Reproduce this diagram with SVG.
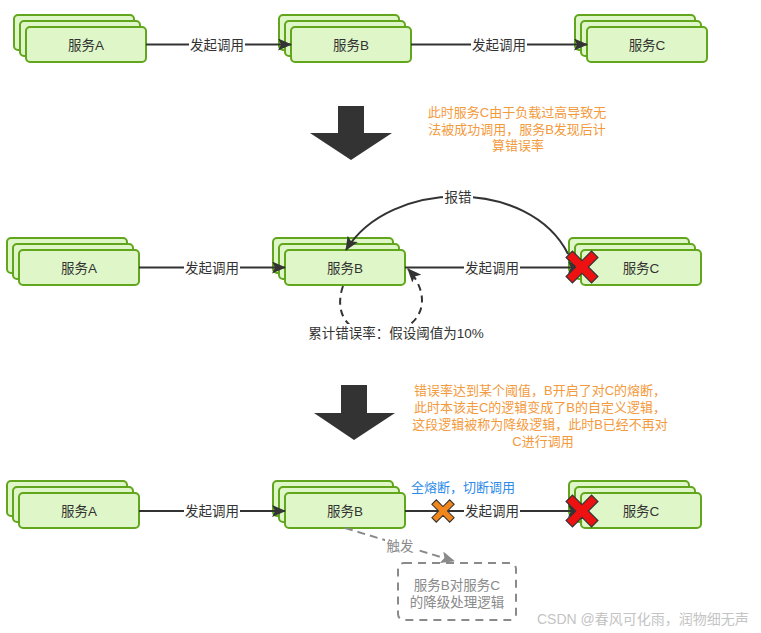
<svg xmlns="http://www.w3.org/2000/svg" xmlns:xlink="http://www.w3.org/1999/xlink" width="761" height="633" viewBox="0 0 761 633">
<style>
text{font-family:"Liberation Sans","Noto Sans CJK SC",sans-serif;}
.nb{fill:#dff7c8;stroke:#61a61c;stroke-width:2;}
.nt{font-size:13.5px;fill:#333;text-anchor:middle;}
.ln{stroke:#333;stroke-width:2;fill:none;}
.lb{font-size:13.5px;fill:#333;text-anchor:middle;}
.bg{fill:#fff;}
.or{font-size:13px;fill:#f39a3c;text-anchor:middle;}
.bl{font-size:13px;fill:#2d8ce8;text-anchor:middle;}
.gr{font-size:13.5px;fill:#8a8a8a;text-anchor:middle;}
.big{fill:#333;}
</style>
<defs>
<marker id="ah" markerUnits="userSpaceOnUse" markerWidth="14" markerHeight="12" refX="13" refY="6" orient="auto">
<path d="M0,0 L14,6 L0,12 L3,6 z" fill="#333"/>
</marker>
<marker id="ahg" markerUnits="userSpaceOnUse" markerWidth="14" markerHeight="12" refX="13" refY="6" orient="auto">
<path d="M0,0 L14,6 L0,12 L3,6 z" fill="#8a8a8a"/>
</marker>
<g id="stk">
<rect class="nb" x="-12" y="-12" width="120" height="35" rx="4"/>
<rect class="nb" x="-6" y="-6" width="120" height="35" rx="4"/>
<rect class="nb" x="0" y="0" width="120" height="35" rx="4"/>
</g>
<polygon id="xs" points="4.5,-18 4.5,-4.5 18,-4.5 18,4.5 4.5,4.5 4.5,18 -4.5,18 -4.5,4.5 -18,4.5 -18,-4.5 -4.5,-4.5 -4.5,-18" transform="rotate(45)"/>
</defs>

<!-- big arrows -->
<g id="bigarrow1"><path class="big" d="M338,106 H364 V133 H392 L351,160 L310,133 H338 z"/></g>
<g id="bigarrow2"><path class="big" d="M341,385 H367 V413 H395 L354,440 L314,413 H341 z"/></g>

<g id="note1">
<text class="or" x="517" y="117">此时服务C由于负载过高导致无</text>
<text class="or" x="517" y="134">法被成功调用，服务B发现后计</text>
<text class="or" x="518" y="150">算错误率</text>
</g>
<g id="note2">
<text class="or" x="540" y="395">错误率达到某个阈值，B开启了对C的熔断，</text>
<text class="or" x="540" y="412">此时本该走C的逻辑变成了B的自定义逻辑，</text>
<text class="or" x="540" y="429">这段逻辑被称为降级逻辑，此时B已经不再对</text>
<text class="or" x="543" y="446">C进行调用</text>
</g>

<!-- nodes -->
<g id="r1A"><use xlink:href="#stk" href="#stk" x="26" y="27"/><text class="nt" x="86" y="49.5">服务A</text></g>
<g id="r1B"><use xlink:href="#stk" href="#stk" x="291" y="27"/><text class="nt" x="351" y="49.5">服务B</text></g>
<g id="r1C"><use xlink:href="#stk" href="#stk" x="587" y="27"/><text class="nt" x="647" y="49.5">服务C</text></g>
<g id="r2A"><use xlink:href="#stk" href="#stk" x="19" y="250"/><text class="nt" x="79" y="272.5">服务A</text></g>
<g id="r2B"><use xlink:href="#stk" href="#stk" x="285" y="250"/><text class="nt" x="345" y="272.5">服务B</text></g>
<g id="r2C"><use xlink:href="#stk" href="#stk" x="581" y="250"/><text class="nt" x="641" y="272.5">服务C</text></g>
<g id="r3A"><use xlink:href="#stk" href="#stk" x="19" y="493"/><text class="nt" x="79" y="516">服务A</text></g>
<g id="r3B"><use xlink:href="#stk" href="#stk" x="285" y="493"/><text class="nt" x="345" y="516">服务B</text></g>
<g id="r3C"><use xlink:href="#stk" href="#stk" x="581" y="493"/><text class="nt" x="641" y="516">服务C</text></g>

<g id="fallback">
<rect x="398" y="563" width="118" height="57" rx="6" fill="#fff" stroke="#8a8a8a" stroke-width="2" stroke-dasharray="8,6"/>
<text class="gr" x="457" y="590">服务B对服务C</text>
<text class="gr" x="457" y="607">的降级处理逻辑</text>
</g>

<!-- connectors -->
<g id="connectors">
<line class="ln" x1="146" y1="44.5" x2="291" y2="44.5" marker-end="url(#ah)"/>
<line class="ln" x1="411" y1="44.5" x2="587" y2="44.5" marker-end="url(#ah)"/>
<line class="ln" x1="139" y1="267.5" x2="285" y2="267.5" marker-end="url(#ah)"/>
<line class="ln" x1="405" y1="267.5" x2="581" y2="267.5" marker-end="url(#ah)"/>
<path class="ln" d="M568,254 C530,178 390,178 346,250" marker-end="url(#ah)"/>
<path class="ln" d="M343,286 C334,312 346,334 378,334 C420,334 436,300 408,269" stroke-dasharray="7,5" marker-end="url(#ah)"/>
<line class="ln" x1="139" y1="511" x2="285" y2="511" marker-end="url(#ah)"/>
<line class="ln" x1="405" y1="511" x2="581" y2="511" marker-end="url(#ah)"/>
<line x1="345" y1="528" x2="454" y2="561" stroke="#8a8a8a" stroke-width="2" stroke-dasharray="8,5" marker-end="url(#ahg)"/>
</g>

<!-- connector labels -->
<g id="labels">
<rect class="bg" x="189" y="36" width="56" height="18"/><text class="lb" x="217" y="50">发起调用</text>
<rect class="bg" x="471" y="36" width="56" height="18"/><text class="lb" x="499" y="50">发起调用</text>
<rect class="bg" x="184" y="259" width="56" height="18"/><text class="lb" x="212" y="273">发起调用</text>
<rect class="bg" x="464" y="259" width="56" height="18"/><text class="lb" x="492" y="273">发起调用</text>
<rect class="bg" x="443" y="188" width="30" height="18"/><text class="lb" x="458" y="202">报错</text>
<rect class="bg" x="306" y="324" width="180" height="18"/><text class="lb" x="396" y="338">累计错误率：假设阈值为10%</text>
<rect class="bg" x="184" y="502" width="56" height="18"/><text class="lb" x="212" y="516">发起调用</text>
<rect class="bg" x="464" y="502" width="56" height="18"/><text class="lb" x="492" y="516">发起调用</text>
<text class="bl" x="463" y="492">全熔断，切断调用</text>
<rect class="bg" x="385" y="538" width="30" height="17"/><text class="gr" x="400" y="551">触发</text>
</g>

<!-- crosses -->
<g id="x2" transform="translate(582,267)"><use xlink:href="#xs" href="#xs" fill="#ee1111" stroke="#333" stroke-width="1.2"/></g>
<g id="x3" transform="translate(582,511)"><use xlink:href="#xs" href="#xs" fill="#ee1111" stroke="#333" stroke-width="1.2"/></g>
<g id="xo" transform="translate(443,511) scale(0.7)"><use xlink:href="#xs" href="#xs" fill="#f0861c" stroke="#333" stroke-width="1.5"/></g>

<text x="537" y="624" font-size="14" fill="#c4c4c4">CSDN @春风可化雨，润物细无声</text>
</svg>
